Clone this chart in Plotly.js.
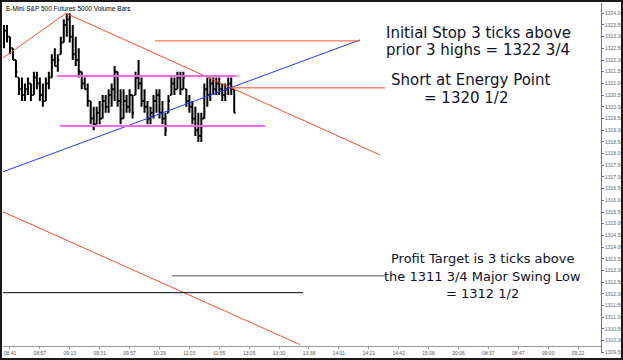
<!DOCTYPE html>
<html><head><meta charset="utf-8">
<script src="https://cdn.plot.ly/plotly-3.0.1.min.js"></script>
<style>
html,body{margin:0;padding:0;background:#fff;}
#wrap{position:relative;width:623px;height:360px;}
#chart{width:623px;height:360px;}
#frame{position:absolute;left:0;top:0;width:623px;height:360px;box-sizing:border-box;border:2px solid #1a1a1a;pointer-events:none;}
</style>
</head><body><div id="wrap"><div id="chart"></div><div id="frame"></div></div>
<script>
// ---- OHLC data (5000 volume bars) ----
const opens  = [1322.75,1323.25,1323.0,1322.5,1322.0,1321.25,1320.75,1320.5,1320.75,1321.0,
  1320.5,1321.25,1321.0,1320.5,1320.25,1321.0,1321.25,1322.0,1321.75,1322.25,
  1322.75,1323.5,1323.75,1323.0,1322.25,1322.0,1321.5,1321.0,1320.75,1320.25,
  1319.5,1319.25,1319.75,1319.5,1320.25,1320.0,1320.5,1320.75,1321.5,1320.25,
  1319.5,1320.25,1320.0,1320.5,1320.5,1321.25,1321.0,1320.25,1320.0,1319.5,
  1319.75,1320.25,1320.5,1319.75,1319.5,1319.75,1320.5,1321.0,1320.75,1321.25,
  1320.75,1320.75,1320.25,1320.0,1319.5,1319.0,1318.75,1319.5,1320.75,1320.5,
  1321.0,1320.75,1321.0,1320.75,1320.5,1320.75,1321.0,1320.75];
const highs  = [1323.5,1323.5,1323.0,1322.5,1322.0,1321.25,1321.25,1321.0,1321.25,1321.0,
  1321.5,1321.5,1321.25,1321.0,1321.25,1321.5,1322.25,1322.5,1322.25,1323.0,
  1323.75,1324.0,1324.0,1323.5,1323.0,1322.5,1321.5,1321.25,1321.0,1320.25,
  1320.0,1320.0,1320.25,1320.5,1320.5,1320.75,1321.0,1321.75,1321.5,1320.75,
  1320.75,1320.5,1320.75,1320.5,1321.5,1322.0,1321.25,1320.75,1320.25,1320.0,
  1320.5,1320.75,1320.75,1320.25,1319.75,1320.5,1321.25,1321.25,1321.5,1321.5,
  1321.5,1320.75,1320.5,1320.25,1320.0,1319.75,1319.75,1321.0,1321.25,1321.25,
  1321.25,1321.25,1321.25,1321.0,1321.0,1321.25,1321.25,1320.75];
const lows   = [1322.5,1322.75,1322.25,1322.0,1321.25,1320.5,1320.25,1320.25,1320.5,1320.25,
  1320.5,1320.75,1320.25,1320.0,1320.25,1320.75,1321.25,1321.75,1321.5,1322.25,
  1322.75,1323.0,1322.75,1322.0,1321.75,1321.25,1320.75,1320.75,1320.0,1319.25,
  1319.0,1319.25,1319.25,1319.5,1319.75,1319.75,1320.0,1320.25,1320.0,1319.25,
  1319.5,1319.75,1319.75,1319.5,1320.5,1320.75,1320.0,1319.75,1319.25,1319.25,
  1319.5,1319.75,1319.5,1319.25,1318.75,1319.75,1320.5,1320.5,1320.75,1320.5,
  1320.75,1320.0,1319.75,1319.25,1318.75,1318.5,1318.5,1319.5,1320.0,1320.25,
  1320.5,1320.5,1320.5,1320.25,1320.25,1320.5,1320.5,1319.75];
const closes = [1323.25,1323.0,1322.5,1322.0,1321.5,1320.75,1320.5,1320.75,1321.0,1320.5,
  1321.25,1321.0,1320.5,1320.25,1321.0,1321.25,1322.0,1321.75,1322.0,1322.75,
  1323.5,1323.75,1323.0,1322.25,1322.0,1321.5,1321.0,1320.75,1320.25,1319.5,
  1319.25,1319.75,1319.5,1320.25,1320.0,1320.5,1320.75,1321.5,1320.25,1319.5,
  1320.25,1320.0,1320.5,1319.75,1321.25,1321.0,1320.25,1320.0,1319.5,1319.75,
  1320.25,1320.5,1319.75,1319.5,1319.0,1320.25,1321.0,1320.75,1321.25,1320.75,
  1321.25,1320.25,1320.0,1319.5,1319.0,1318.75,1319.5,1320.75,1320.5,1321.0,
  1320.75,1321.0,1320.75,1320.5,1320.75,1321.0,1320.75,1319.75];

// ---- time axis labels (bar number of each label) ----
const tickBars   = [2,12,22,32,42,52,62,72,82,92,102,112,122,132,142,152,162,172,182,192];
const tickLabels = ['08:41','08:57','09:13','09:31','09:57','10:29','11:03','11:55','13:05','13:30',
                    '13:38','14:01','14:21','14:42','15:08','20:06','08:37','08:47','09:00','09:22'];

// ---- drawn trend lines / levels (bar number, price) ----
const lineNames = ['rise','fall','blue','entry','stop','rangeTop','rangeBottom','lowerChannel','swingLow','target'];
const lineX0 = [-0.33, 20.74, -0.33, 76.25, 50.5, 17.7, 18.7, -0.33, -0.33, 56.2];
const lineY0 = [1322.09,1324.0,1317.22,1320.81,1322.82,1321.32,1319.18,1315.51,1312.05,1312.77];
const lineX1 = [20.74, 125.75, 119.06, 127.4, 119.06, 77.9, 87.3, 99.0, 100.0, 127.4];
const lineY1 = [1324.0,1317.94,1322.86,1320.81,1322.82,1321.32,1319.18,1309.83,1312.05,1312.77];
const lineColors = ['#ff4d2e','#ff4d2e','#2339ff','#ff4d2e','#ff4d2e','#ff66ff','#ff66ff','#ff4d2e','#000000','#555555'];
const lineWidths = [1,1,1,1,1,2,2,1,1,1];

const barNo = opens.map((_, i) => i);

const traces = [{
  type:'ohlc', x:barNo, open:opens, high:highs, low:lows, close:closes,
  increasing:{line:{color:'#000',width:2}}, decreasing:{line:{color:'#000',width:2}},
  tickwidth:0.5, hoverinfo:'skip', showlegend:false
}];
lineNames.forEach((n,k)=>{
  traces.push({type:'scatter',mode:'lines',name:n,x:[lineX0[k],lineX1[k]],y:[lineY0[k],lineY1[k]],
    line:{color:lineColors[k],width:lineWidths[k]},hoverinfo:'skip',showlegend:false,cliponaxis:true});
});

// plot area pixel box: x 3..601, y 3..353
const PX = x => (x-3)/598, PY = y => (353-y)/350;
const fontFam = 'DejaVu Sans, Verdana, sans-serif';
const notes = [
  ['Initial Stop 3 ticks above',478,33,15],
  ['prior 3 highs = 1322 3/4',478,50,15],
  ['Short at Energy Point',471,80,15],
  ['= 1320 1/2',466,98,15],
  ['Profit Target is 3 ticks above',482,258,13],
  ['the 1311 3/4 Major Swing Low',482,276,13],
  ['= 1312 1/2',482,293,13]
];
const annotations = notes.map(a=>({text:a[0],x:PX(a[1]),y:PY(a[2]),xref:'paper',yref:'paper',
  xanchor:'center',yanchor:'middle',showarrow:false,font:{family:fontFam,size:a[3],color:'#10102a'}}));
annotations.push({text:'E-Mini S&P 500 Futures 5000 Volume Bars',x:PX(4),y:PY(3),xref:'paper',yref:'paper',
  xanchor:'left',yanchor:'top',showarrow:false,font:{family:'Liberation Sans, Arial, sans-serif',size:6.5,color:'#000'}});

const layout = {
  width:623,height:360,margin:{l:3,r:22,t:3,b:7,pad:0},
  paper_bgcolor:'#fff',plot_bgcolor:'#fff',showlegend:false,
  xaxis:{range:[-0.33,199.67],tickmode:'array',tickvals:tickBars,ticktext:tickLabels,
    showgrid:false,zeroline:false,showline:true,linecolor:'#9a9a9a',linewidth:1,
    ticks:'outside',ticklen:2,tickcolor:'#9a9a9a',anchor:'free',position:0.02,
    tickfont:{family:'Liberation Sans, Arial, sans-serif',size:5,color:'#555'},
    rangeslider:{visible:false},fixedrange:true},
  yaxis:{range:[1309.47,1324.44],side:'right',dtick:0.5,tick0:1309.5,tickformat:'.2f',
    showgrid:false,zeroline:false,showline:true,linecolor:'#6070b0',linewidth:1,
    ticks:'outside',ticklen:2,tickcolor:'#6070b0',
    tickfont:{family:'Liberation Sans, Arial, sans-serif',size:5,color:'#666'},fixedrange:true},
  annotations:annotations
};
Plotly.newPlot('chart',traces,layout,{displayModeBar:false,staticPlot:true});
</script></body></html>
